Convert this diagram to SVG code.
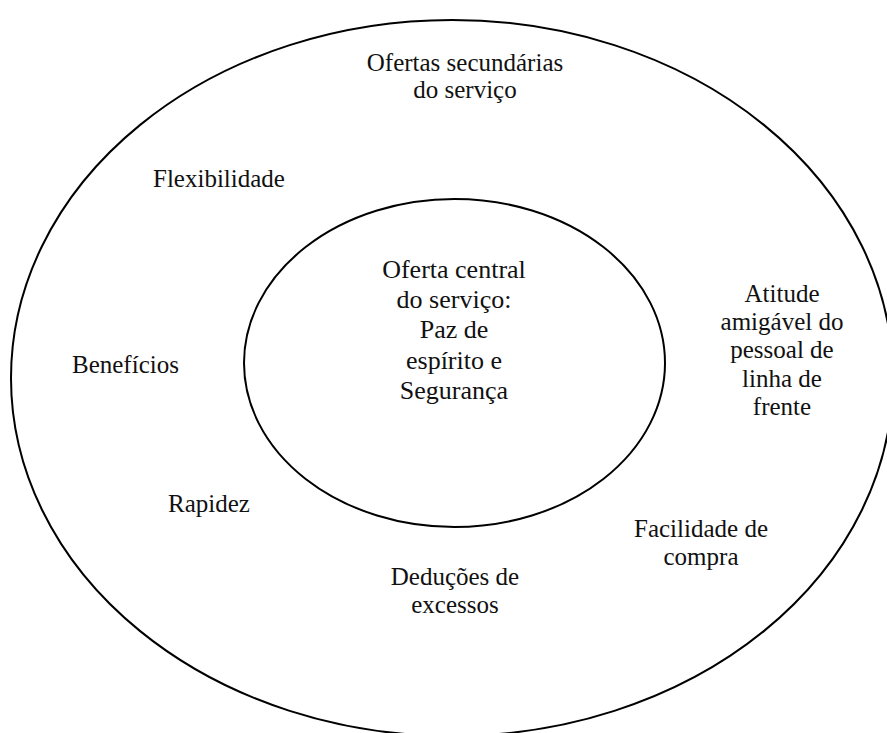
<svg xmlns="http://www.w3.org/2000/svg" width="887" height="733" viewBox="0 0 887 733">
  <style>
    .ring { fill: none; stroke: #000; stroke-width: 2; }
    .lbl { font-family: "Liberation Serif", "Times New Roman", serif; font-size: 25px; fill: #111; }
    .ctr { font-family: "Liberation Serif", "Times New Roman", serif; font-size: 26px; fill: #111; text-anchor: middle; }
    .mid { text-anchor: middle; }
  </style>
  <rect width="887" height="733" fill="#fff"/>
  <g id="outer">
    <ellipse class="ring" cx="452" cy="378" rx="441" ry="358"/>
    <text class="lbl mid" x="465" y="71">Ofertas secundárias</text>
    <text class="lbl mid" x="465" y="98">do serviço</text>
  </g>
  <g id="inner">
    <ellipse class="ring" cx="454.5" cy="363" rx="210.5" ry="164"/>
    <text class="ctr" x="454" y="278">Oferta central</text>
    <text class="ctr" x="454" y="308">do serviço:</text>
    <text class="ctr" x="454" y="338">Paz de</text>
    <text class="ctr" x="454" y="369">espírito e</text>
    <text class="ctr" x="454" y="399">Segurança</text>
  </g>
  <g id="flexibilidade"><text class="lbl" x="153" y="187">Flexibilidade</text></g>
  <g id="beneficios"><text class="lbl" x="72" y="373">Benefícios</text></g>
  <g id="rapidez"><text class="lbl" x="168" y="512">Rapidez</text></g>
  <g id="atitude">
    <text class="lbl mid" x="782" y="302">Atitude</text>
    <text class="lbl mid" x="782" y="330">amigável do</text>
    <text class="lbl mid" x="782" y="358">pessoal de</text>
    <text class="lbl mid" x="782" y="387">linha de</text>
    <text class="lbl mid" x="782" y="415">frente</text>
  </g>
  <g id="facilidade">
    <text class="lbl mid" x="701" y="537">Facilidade de</text>
    <text class="lbl mid" x="701" y="565">compra</text>
  </g>
  <g id="deducoes">
    <text class="lbl mid" x="455" y="585">Deduções de</text>
    <text class="lbl mid" x="455" y="613">excessos</text>
  </g>
  <g id="connectors"></g>
</svg>
